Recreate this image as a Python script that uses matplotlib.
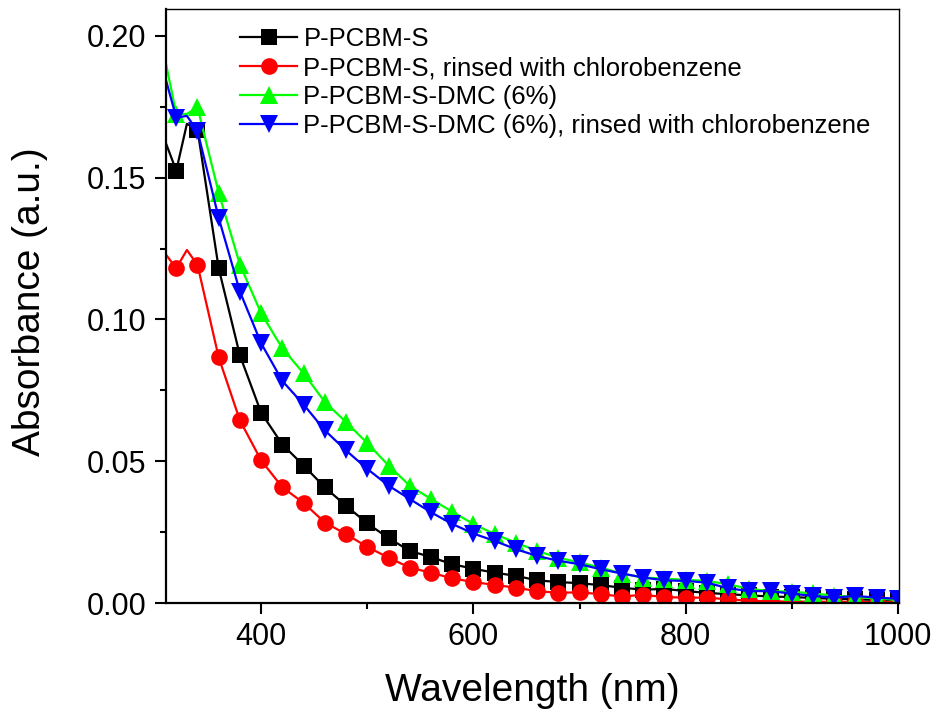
import matplotlib
matplotlib.use("Agg")
import matplotlib.pyplot as plt
from matplotlib.ticker import MultipleLocator, FormatStrFormatter

plt.rcParams['font.family'] = ['Liberation Sans', 'DejaVu Sans']

wavelength = [310, 320, 330, 340, 360, 380, 400, 420, 440, 460, 480, 500, 520, 540,
              560, 580, 600, 620, 640, 660, 680, 700, 720, 740, 760, 780, 800, 820,
              840, 860, 880, 900, 920, 940, 960, 980, 1000]

p_pcbm_s = [0.1624, 0.1525, 0.169, 0.1670, 0.1180, 0.0873, 0.0671, 0.0559, 0.0485, 0.0408,
            0.0343, 0.0281, 0.0229, 0.0184, 0.0162, 0.0137, 0.0121, 0.0107, 0.0096, 0.0080,
            0.0074, 0.0070, 0.0063, 0.0054, 0.0047, 0.0050, 0.0042, 0.0036, 0.0031, 0.0027,
            0.0023, 0.0021, 0.0018, 0.0015, 0.0013, 0.0011, 0.0009]

p_pcbm_s_rinsed = [0.1230, 0.1181, 0.1245, 0.1193, 0.0866, 0.0644, 0.0503, 0.0408, 0.0353, 0.0284,
                   0.0243, 0.0198, 0.0160, 0.0125, 0.0107, 0.0087, 0.0074, 0.0064, 0.0054, 0.0042,
                   0.0036, 0.0038, 0.0031, 0.0023, 0.0029, 0.0021, 0.0019, 0.0019, 0.0013, 0.0008,
                   0.0006, 0.0005, 0.0005, 0.0004, 0.0004, 0.0003, 0.0003]

p_pcbm_s_dmc = [0.1907, 0.1725, 0.1725, 0.1748, 0.1447, 0.1193, 0.1022, 0.0898, 0.0810, 0.0709,
                0.0638, 0.0564, 0.0485, 0.0414, 0.0367, 0.0322, 0.0279, 0.0243, 0.0213, 0.0184,
                0.0160, 0.0143, 0.0125, 0.0104, 0.0090, 0.0086, 0.0082, 0.0078, 0.0066, 0.0050,
                0.0042, 0.0040, 0.0034, 0.0026, 0.0021, 0.0016, 0.0011]

p_pcbm_s_dmc_rinsed = [0.1848, 0.1712, 0.1718, 0.1665, 0.1358, 0.1098, 0.0916, 0.0783, 0.0700, 0.0609,
                       0.0538, 0.0473, 0.0414, 0.0367, 0.0320, 0.0279, 0.0245, 0.0219, 0.0190, 0.0166,
                       0.0149, 0.0137, 0.0119, 0.0104, 0.0090, 0.0080, 0.0078, 0.0072, 0.0052, 0.0042,
                       0.0042, 0.0033, 0.0025, 0.0019, 0.0025, 0.0019, 0.0015]

labels = ['P-PCBM-S', 'P-PCBM-S, rinsed with chlorobenzene',
          'P-PCBM-S-DMC (6%)', 'P-PCBM-S-DMC (6%), rinsed with chlorobenzene']
series = [p_pcbm_s, p_pcbm_s_rinsed, p_pcbm_s_dmc, p_pcbm_s_dmc_rinsed]
colors = ['#000000', '#FF0000', '#00FF00', '#0000FF']
markers = ['s', 'o', '^', 'v']
msizes = [11, 12, 13, 13]

mark_idx = [i for i, w in enumerate(wavelength) if w % 20 == 0]

fig = plt.figure(figsize=(9.37, 7.15), dpi=100)
ax = fig.add_axes([0.1768, 0.1566, 0.9594 - 0.1768, 0.9874 - 0.1566])

for y, c, m, ms, lab in zip(series, colors, markers, msizes, labels):
    ax.plot(wavelength, y, color=c, marker=m, markersize=ms, markevery=mark_idx,
            linewidth=1.6, markeredgewidth=0, label=lab)

ax.set_xlim(310, 1001)
ax.set_ylim(0, 0.2095)
ax.xaxis.set_major_locator(MultipleLocator(200))
ax.xaxis.set_minor_locator(MultipleLocator(100))
ax.yaxis.set_major_locator(MultipleLocator(0.05))
ax.yaxis.set_minor_locator(MultipleLocator(0.025))
ax.yaxis.set_major_formatter(FormatStrFormatter('%.2f'))

ax.tick_params(which='major', direction='out', length=8, width=1.5, labelsize=22, pad=6)
ax.tick_params(which='minor', direction='out', length=4.5, width=1.5)
ax.tick_params(top=False, right=False, which='both')

for s in ['left', 'bottom']:
    ax.spines[s].set_linewidth(1.6)
for s in ['top', 'right']:
    ax.spines[s].set_linewidth(1.0)

ax.set_xlabel('Wavelength (nm)', fontsize=28, labelpad=15)
ax.set_ylabel('Absorbance (a.u.)', fontsize=28)
ax.yaxis.set_label_coords(-0.161, 0.507)

leg = ax.legend(loc='upper left', bbox_to_anchor=(0.088, 0.987), frameon=False,
                fontsize=18.5, handlelength=2.2, handletextpad=0.25, labelspacing=0.2,
                borderaxespad=0.0)

fig.savefig('out.png', dpi=100)
